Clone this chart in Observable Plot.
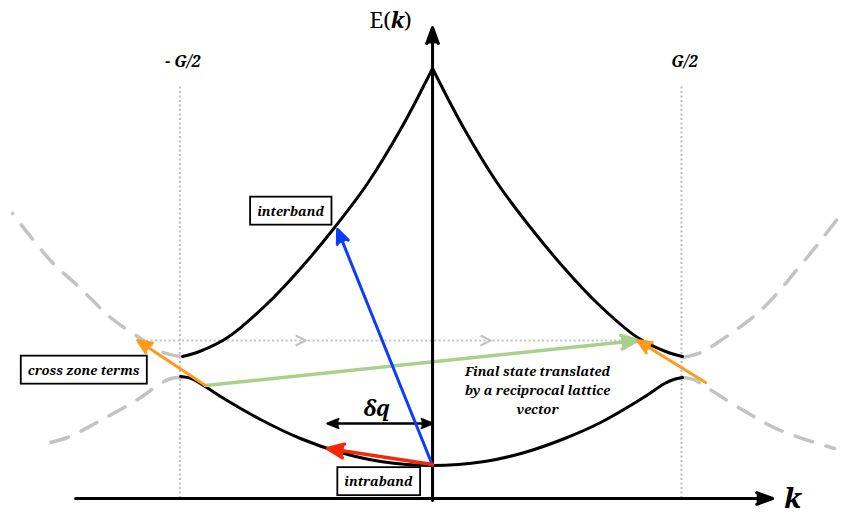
<!DOCTYPE html>
<html>
<head>
<meta charset="utf-8">
<script src="https://cdn.jsdelivr.net/npm/d3@7"></script>
<script src="https://cdn.jsdelivr.net/npm/@observablehq/plot@0.6"></script>
<style>
  html, body { margin: 0; padding: 0; background: #fff; overflow: hidden; }
  #chart { width: 844px; height: 516px; }
</style>
</head>
<body>
<div id="chart"></div>
<script>
// Wave vector k is in units of G/2, energy E in arbitrary units.

// Reduced-zone bands
const upperLeftK  = [-0.995, -0.928, -0.816, -0.657, -0.522, -0.390, -0.259, -0.123, 0];
const upperLeftE  = [1.42, 1.47, 1.61, 1.95, 2.31, 2.71, 3.15, 3.71, 4.30];
const upperRightK = [0, 0.123, 0.259, 0.390, 0.522, 0.657, 0.816, 0.928, 0.995];
const upperRightE = [4.30, 3.71, 3.15, 2.71, 2.31, 1.95, 1.61, 1.47, 1.42];
const lowerK = [-1.003, -0.960, -0.924, -0.844, -0.685, -0.526, -0.366, -0.207, 0, 0.207, 0.366, 0.526, 0.669, 0.840, 0.924, 0.960, 0.995];
const lowerE = [1.22, 1.20, 1.15, 1.02, 0.79, 0.60, 0.46, 0.37, 0.33, 0.37, 0.46, 0.60, 0.76, 1.01, 1.15, 1.19, 1.21];

// Bands continued past the zone edges (extended-zone picture)
const extUpperLeftK  = [-1.003, -1.071, -1.162, -1.282, -1.401, -1.521, -1.672];
const extUpperLeftE  = [1.42, 1.46, 1.60, 1.81, 2.10, 2.38, 2.85];
const extLowerLeftK  = [-1.003, -1.040, -1.083, -1.174, -1.322, -1.453, -1.541];
const extLowerLeftE  = [1.21, 1.20, 1.15, 0.99, 0.78, 0.61, 0.55];
const extUpperRightK = [0.995, 1.067, 1.135, 1.306, 1.465, 1.632];
const extUpperRightE = [1.41, 1.46, 1.56, 1.88, 2.33, 2.86];
const extLowerRightK = [0.995, 1.040, 1.080, 1.238, 1.385, 1.600];
const extLowerRightE = [1.21, 1.19, 1.13, 0.88, 0.68, 0.50];

// Zone boundaries at ±G/2
const zoneEdgeK = [-1.006, 0.991];
const zoneEdgeLabels = ["- G/2", "G/2"];
const zoneEdgeTopE = 4.13;

// Transitions: start (k1, E1) → end (k2, E2)
const transitionNames = ["interband", "intraband", "translated", "crossLeft", "crossRight"];
const transitionK1 = [0, 0, -0.904, -0.904, 1.087];
const transitionE1 = [0.33, 0.34, 1.13, 1.13, 1.16];
const transitionK2 = [-0.378, -0.418, 0.816, -1.174, 0.816];
const transitionE2 = [2.69, 0.50, 1.58, 1.58, 1.58];

// Reciprocal-lattice translation guide
const translationK = [-1.174, 0.816];
const translationE = 1.58;
const translationChevronK = [-0.525, 0.211];

// Momentum transfer δq
const deltaQK = [-0.418, 0];
const deltaQE = 0.75;

// Axes extents
const kAxis = [-1.421, 1.354];
const eAxis = [-0.02, 4.71];

const serif = "Noto Serif";
const pts = (ks, es) => ks.map((k, i) => ({k, E: es[i]}));
const transitions = transitionNames.map((name, i) => ({
  name, k1: transitionK1[i], E1: transitionE1[i], k2: transitionK2[i], E2: transitionE2[i]
}));
const byName = n => transitions.filter(d => d.name === n);

// Open ">" marker pointing in +k
const chevron = {
  draw(ctx, size) {
    const r = Math.sqrt(size / Math.PI);
    ctx.moveTo(-r, -r);
    ctx.lineTo(r, 0);
    ctx.lineTo(-r, r);
  }
};

const bandStyle = {x: "k", y: "E", stroke: "black", strokeWidth: 3, curve: "catmull-rom"};
const extStyle = {x: "k", y: "E", stroke: "#c3c3c3", strokeWidth: 3.5, strokeDasharray: "18,14", curve: "catmull-rom"};
const arrowStyle = {x1: "k1", y1: "E1", x2: "k2", y2: "E2", strokeWidth: 3, headAngle: 46, headLength: 7.5};
const label = {fontFamily: serif, fontWeight: "bold", fontStyle: "italic", fill: "black", textAnchor: "middle"};

const chart = Plot.plot({
  width: 844,
  height: 516,
  margin: 0,
  x: {domain: [-1.72, 1.64], axis: null},
  y: {domain: [-0.18, 4.98], axis: null},
  style: {background: "white", overflow: "visible"},
  marks: [
    // zone boundaries
    Plot.ruleX(zoneEdgeK, {x: d => d, y1: 0, y2: zoneEdgeTopE, stroke: "#bdbdbd", strokeWidth: 2, strokeDasharray: "2,2.5"}),
    // extended-zone continuations
    Plot.line(pts(extUpperLeftK, extUpperLeftE), extStyle),
    Plot.line(pts(extLowerLeftK, extLowerLeftE), extStyle),
    Plot.line(pts(extUpperRightK, extUpperRightE), extStyle),
    Plot.line(pts(extLowerRightK, extLowerRightE), extStyle),
    // translation guide
    Plot.ruleY([translationE], {x1: translationK[0], x2: translationK[1], y: d => d, stroke: "#c3c3c3", strokeWidth: 2, strokeDasharray: "2,2.5"}),
    Plot.dot(translationChevronK, {x: d => d, y: () => translationE, symbol: chevron, r: 5, fill: "none", stroke: "#c3c3c3", strokeWidth: 2}),
    // bands
    Plot.line(pts(upperLeftK, upperLeftE), bandStyle),
    Plot.line(pts(upperRightK, upperRightE), bandStyle),
    Plot.line(pts(lowerK, lowerE), bandStyle),
    // translated final state
    Plot.arrow(byName("translated"), {...arrowStyle, stroke: "#a9d18e", fill: "#a9d18e", strokeWidth: 3.5}),
    // axes
    Plot.arrow([kAxis], {x1: d => d[0], x2: d => d[1], y1: 0, y2: 0, stroke: "black", fill: "black", strokeWidth: 3, headAngle: 40, headLength: 8.5}),
    Plot.arrow([eAxis], {x1: 0, x2: 0, y1: d => d[0], y2: d => d[1], stroke: "black", fill: "black", strokeWidth: 3, headAngle: 40, headLength: 8.5}),
    // cross zone terms
    Plot.arrow(byName("crossLeft"), {...arrowStyle, stroke: "#ff9a1a", fill: "#ff9a1a"}),
    Plot.arrow(byName("crossRight"), {...arrowStyle, stroke: "#ff9a1a", fill: "#ff9a1a"}),
    // δq
    Plot.arrow([deltaQK], {x1: d => d[1], x2: d => d[0], y1: deltaQE, y2: deltaQE, stroke: "black", fill: "black", strokeWidth: 2, headAngle: 46, headLength: 9}),
    Plot.arrow([deltaQK], {x1: d => d[0], x2: d => d[1], y1: deltaQE, y2: deltaQE, stroke: "black", fill: "black", strokeWidth: 2, headAngle: 46, headLength: 9}),
    // interband and intraband transitions
    Plot.arrow(byName("interband"), {...arrowStyle, stroke: "#0b3cff", fill: "#0b3cff"}),
    Plot.arrow(byName("intraband"), {...arrowStyle, stroke: "#f5290a", fill: "#f5290a", strokeWidth: 3.5}),
    // axis titles
    Plot.text(["E(k)"], {x: -0.167, y: 4.71, text: d => d, fontFamily: serif, fontSize: 22, lineAnchor: "bottom", textAnchor: "middle", fill: "black"}),
    Plot.text(["k"], {...label, x: 1.433, y: -0.09, text: d => d, fontSize: 28, lineAnchor: "bottom"}),
    Plot.text(zoneEdgeK, {...label, x: d => d, y: 4.32, text: (d, i) => zoneEdgeLabels[i], fontSize: 16, lineAnchor: "bottom", dx: 3}),
    Plot.text(["δq"], {...label, x: -0.223, y: 0.83, text: d => d, fontSize: 22, lineAnchor: "bottom"}),
    Plot.text(["Final state translated\nby a reciprocal lattice\nvector"], {...label, x: 0.418, y: 1.36, text: d => d, fontSize: 13, lineHeight: 1.46, lineAnchor: "top"}),
    // boxed annotations
    Plot.text(["interband"], {...label, x: -0.565, y: 2.87, text: d => d, fontSize: 13}),
    Plot.text(["cross zone terms"], {...label, x: -1.389, y: 1.28, text: d => d, fontSize: 13}),
    Plot.text(["intraband"], {...label, x: -0.215, y: 0.165, text: d => d, fontSize: 13})
  ]
});

document.getElementById("chart").append(chart);

// Frame the annotation labels and set the bold-italic k in E(k)
const boxed = new Set(["interband", "intraband", "cross zone terms"]);
d3.select(chart).selectAll("text").each(function() {
  const t = this.textContent;
  if (boxed.has(t)) {
    const b = this.getBBox();
    const padX = 7, padY = 5;
    const rect = document.createElementNS("http://www.w3.org/2000/svg", "rect");
    rect.setAttribute("x", b.x - padX);
    rect.setAttribute("y", b.y - padY);
    rect.setAttribute("width", b.width + 2 * padX);
    rect.setAttribute("height", b.height + 2 * padY);
    rect.setAttribute("fill", "white");
    rect.setAttribute("stroke", "black");
    rect.setAttribute("stroke-width", 1.8);
    const tr = this.getAttribute("transform");
    if (tr) rect.setAttribute("transform", tr);
    this.parentNode.insertBefore(rect, this);
  } else if (t === "E(k)") {
    const el = d3.select(this);
    el.text(null);
    el.append("tspan").text("E(");
    el.append("tspan").attr("font-weight", "bold").attr("font-style", "italic").text("k");
    el.append("tspan").text(")");
  }
});
</script>
</body>
</html>
